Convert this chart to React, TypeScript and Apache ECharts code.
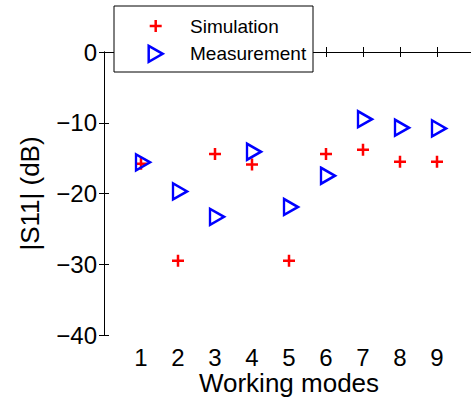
import React, { useEffect, useRef } from "react";
import * as echarts from "echarts";

const modes = [1, 2, 3, 4, 5, 6, 7, 8, 9];
const simulation = [-15.8, -29.5, -14.4, -15.9, -29.5, -14.4, -13.8, -15.5, -15.5];
const measurement = [-15.6, -19.7, -23.3, -14.1, -21.9, -17.5, -9.5, -10.7, -10.8];
const xTicks = [1, 2, 3, 4, 5, 6, 7, 8, 9];
const yTicks = [-40, -30, -20, -10, 0];
const seriesNames = ["Simulation", "Measurement"];

const FONT = "'Liberation Sans', Arial, Helvetica, sans-serif";
const PLUS = "path://M6,0 L6,12 M0,6 L12,6";
const TRI = "path://M0,0 L14,8 L0,16 Z";
const RED = "#ff0000";
const BLUE = "#0000ff";

export default function App() {
  const ref = useRef<HTMLDivElement>(null);
  useEffect(() => {
    document.body.style.margin = "0";
    const chart = echarts.init(ref.current!, null, { renderer: "svg" });
    const line = { show: true, lineStyle: { color: "#000", width: 1 } };
    const tick = (vals: number[]) => ({
      show: true,
      inside: true,
      length: 5,
      customValues: vals,
      lineStyle: { color: "#000", width: 1 },
    });
    // legend drawn as graphic for exact placement
    const lx = 114, ly = 6, lw = 199, lh = 66;
    const row1 = 26, row2 = 53.8, keyX = 155.7, textX = 190;
    const Z = 100;
    chart.setOption({
      animation: false,
      backgroundColor: "#fff",
      grid: {
        left: 104,
        top: 52,
        width: 370,
        height: 283,
        containLabel: false,
        outerBoundsMode: "none",
      },
      xAxis: [
        {
          type: "value",
          min: 0,
          max: 10,
          interval: 1,
          position: "bottom",
          axisLine: line,
          axisTick: tick(xTicks),
          splitLine: { show: false },
          axisLabel: {
            customValues: xTicks,
            fontSize: 24,
            fontFamily: FONT,
            color: "#000",
            margin: 10,
          },
          name: "Working modes",
          nameLocation: "middle",
          nameGap: 35,
          nameMoveOverlap: false,
          nameTextStyle: { fontSize: 26, fontFamily: FONT, color: "#000" },
        },
        {
          type: "value",
          min: 0,
          max: 10,
          interval: 1,
          position: "top",
          axisLine: line,
          axisTick: tick(xTicks),
          axisLabel: { show: false },
          splitLine: { show: false },
        },
      ],
      yAxis: [
        {
          type: "value",
          min: -40,
          max: 0,
          interval: 10,
          position: "left",
          axisLine: line,
          axisTick: tick(yTicks),
          splitLine: { show: false },
          axisLabel: {
            customValues: yTicks,
            fontSize: 24,
            fontFamily: FONT,
            color: "#000",
            margin: 7,
            formatter: (v: number) => (v < 0 ? "\u2212" + Math.abs(v) : String(v)),
          },
          name: "|S11| (dB)",
          nameLocation: "middle",
          nameGap: 61,
          nameMoveOverlap: false,
          nameTextStyle: { fontSize: 26, fontFamily: FONT, color: "#000" },
        },
        {
          type: "value",
          min: -40,
          max: 0,
          interval: 10,
          position: "right",
          axisLine: line,
          axisTick: tick(yTicks),
          axisLabel: { show: false },
          splitLine: { show: false },
        },
      ],
      graphic: [
        {
          type: "rect",
          z: Z,
          shape: { x: lx, y: ly, width: lw, height: lh },
          style: { fill: "#fff", stroke: "#000", lineWidth: 1 },
        },
        {
          type: "line",
          z: Z + 1,
          shape: { x1: keyX - 6, y1: row1, x2: keyX + 6, y2: row1 },
          style: { stroke: RED, lineWidth: 2.5 },
        },
        {
          type: "line",
          z: Z + 1,
          shape: { x1: keyX, y1: row1 - 6, x2: keyX, y2: row1 + 6 },
          style: { stroke: RED, lineWidth: 2.5 },
        },
        {
          type: "polygon",
          z: Z + 1,
          shape: {
            points: [
              [keyX - 7, row2 - 8],
              [keyX + 7, row2],
              [keyX - 7, row2 + 8],
            ],
          },
          style: { fill: "none", stroke: BLUE, lineWidth: 2.5 },
        },
        {
          type: "text",
          z: Z + 1,
          x: textX,
          y: row1,
          style: {
            text: seriesNames[0],
            fontSize: 19,
            fontFamily: FONT,
            fill: "#000",
            verticalAlign: "middle",
          },
        },
        {
          type: "text",
          z: Z + 1,
          x: textX,
          y: row2,
          style: {
            text: seriesNames[1],
            fontSize: 19,
            fontFamily: FONT,
            fill: "#000",
            verticalAlign: "middle",
          },
        },
      ],
      series: [
        {
          name: seriesNames[0],
          type: "scatter",
          symbol: PLUS,
          symbolSize: 12,
          data: modes.map((m, i) => [m, simulation[i]]),
          itemStyle: { color: "transparent", borderColor: RED, borderWidth: 2.5, opacity: 1 },
          z: 2,
        },
        {
          name: seriesNames[1],
          type: "scatter",
          symbol: TRI,
          symbolSize: [14, 16],
          symbolOffset: [2, 0],
          data: modes.map((m, i) => [m, measurement[i]]),
          itemStyle: { color: "transparent", borderColor: BLUE, borderWidth: 2.5, opacity: 1 },
          z: 3,
        },
      ],
    });
    return () => chart.dispose();
  }, []);
  return <div ref={ref} style={{ width: 471, height: 400 }} />;
}
